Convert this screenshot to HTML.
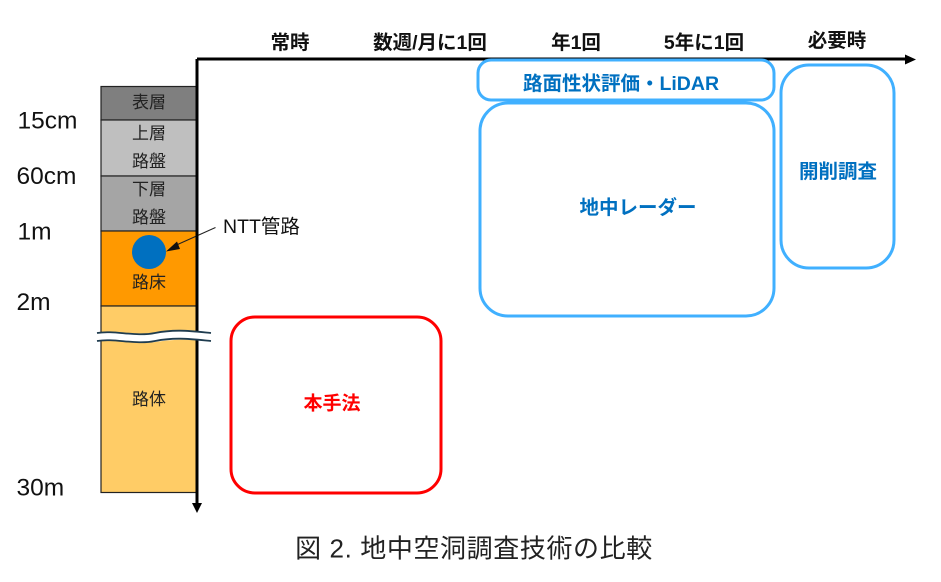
<!DOCTYPE html>
<html>
<head>
<meta charset="utf-8">
<style>
html,body{margin:0;padding:0;background:#fff;width:941px;height:582px;overflow:hidden}
svg{display:block}
text{font-family:"Liberation Sans","Noto Sans CJK JP",sans-serif}
.h{font-size:19.500px;font-weight:bold;fill:#111;text-anchor:middle}
.c{font-size:17px;fill:#222;text-anchor:middle}
.d{font-size:24.500px;fill:#111}
.b{font-size:19.500px;font-weight:bold;fill:#0070c0;text-anchor:middle}
</style>
</head>
<body>
<svg width="941" height="582" viewBox="0 0 941 582" xmlns="http://www.w3.org/2000/svg">
<rect x="101" y="86.500" width="96" height="33.500" fill="#7f7f7f" stroke="#222" stroke-width="1.200"/>
<rect x="101" y="120" width="96" height="56" fill="#bfbfbf" stroke="#222" stroke-width="1.200"/>
<rect x="101" y="176" width="96" height="55" fill="#a5a5a5" stroke="#222" stroke-width="1.200"/>
<rect x="101" y="231" width="96" height="75" fill="#ff9900" stroke="#222" stroke-width="1.200"/>
<rect x="101" y="306" width="96" height="186.500" fill="#ffcc66" stroke="#222" stroke-width="1.200"/>
<text class="c" x="149" y="108">表層</text>
<text class="c" x="149" y="139">上層</text>
<text class="c" x="149" y="167">路盤</text>
<text class="c" x="149" y="195">下層</text>
<text class="c" x="149" y="223">路盤</text>
<text class="c" x="149" y="288">路床</text>
<text class="c" x="149" y="405">路体</text>
<circle cx="149" cy="252" r="17" fill="#0070c0"/>
<path d="M215.500 227.500L172 247" stroke="#222" stroke-width="1"/>
<path d="M166 251.500L177 241.500L180 249Z" fill="#111"/>
<text x="223" y="233" font-size="19.500" fill="#111">NTT管路</text>
<path d="M197 59V505M197 59H905" fill="none" stroke="#000" stroke-width="3"/>
<path d="M192 503H202L197 513Z" fill="#000"/>
<path d="M905 54.500L916 59.500L905 64.500Z" fill="#000"/>
<path d="M97 333C115 330 135 337 155 333S190 331 211 333V341C190 339 175 339 155 342S115 338 97 341Z" fill="#fff"/>
<path d="M97 333C115 330 135 337 155 333S190 331 211 333M97 341C115 338 135 345 155 341S190 339 211 341" fill="none" stroke="#1f3c4f" stroke-width="1.800"/>
<text class="d" x="17.500" y="128.500">15cm</text>
<text class="d" x="16.500" y="184">60cm</text>
<text class="d" x="17.500" y="239.500">1m</text>
<text class="d" x="16.500" y="310">2m</text>
<text class="d" x="16.500" y="495.500">30m</text>
<text class="h" x="290" y="49">常時</text>
<text class="h" x="430" y="49">数週/月に1回</text>
<text class="h" x="576" y="49">年1回</text>
<text class="h" x="704" y="49">5年に1回</text>
<text class="h" x="837" y="47">必要時</text>
<rect x="478" y="60" width="296" height="40" rx="13" fill="#fff" stroke="#40b0ff" stroke-width="3"/>
<rect x="480" y="103" width="294" height="213" rx="28" fill="#fff" stroke="#40b0ff" stroke-width="3"/>
<rect x="781" y="65" width="113" height="203" rx="28" fill="#fff" stroke="#40b0ff" stroke-width="3"/>
<rect x="231" y="317" width="210" height="176" rx="24" fill="#fff" stroke="#ff0000" stroke-width="3"/>
<text class="b" x="621" y="90">路面性状評価・LiDAR</text>
<text class="b" x="638" y="214">地中レーダー</text>
<text class="b" x="838" y="178">開削調査</text>
<text x="332" y="409.500" font-size="19" font-weight="bold" fill="#ff0000" text-anchor="middle">本手法</text>
<text x="474" y="557.500" font-size="26" fill="#222" text-anchor="middle" letter-spacing="0.600">図 2. 地中空洞調査技術の比較</text>
</svg>
</body>
</html>
